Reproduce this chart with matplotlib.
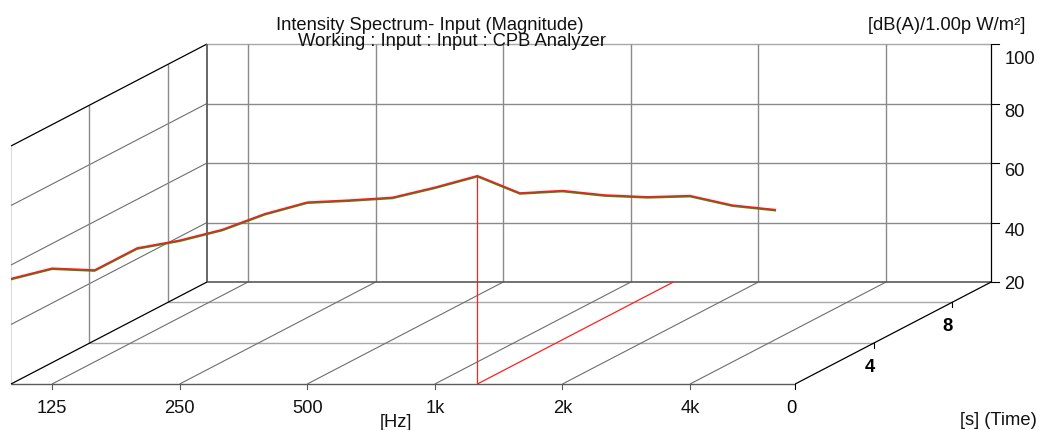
import numpy as np
import matplotlib
matplotlib.use("Agg")
import matplotlib.pyplot as plt
import matplotlib.transforms as mtransforms
from matplotlib.patches import Rectangle

# ---------------- data ----------------
band_freqs = [100, 125, 160, 200, 250, 315, 400, 500, 630, 800, 1000,
              1250, 1600, 2000, 2500, 3150, 4000, 5000, 6300]
level_db = [55.3, 58.9, 58.3, 65.7, 68.3, 71.9, 77.2, 81.1, 81.8, 82.7, 86.1,
            90.0, 84.2, 85.0, 83.5, 82.9, 83.3, 80.1, 78.6]
freq_ticks = [125, 250, 500, 1000, 2000, 4000]
freq_tick_labels = ["125", "250", "500", "1k", "2k", "4k"]
db_ticks = [20, 40, 60, 80, 100]
db_tick_labels = ["20", "40", "60", "80", "100"]
time_ticks = [0, 4, 8]
time_tick_labels = ["0", "4", "8"]
cursor_freq = 1250
f_min, f_max = 100, 7080
t_min, t_max = 0, 10
db_min, db_max = 20, 100

title1 = "Intensity Spectrum- Input (Magnitude)"
title2 = "Working : Input : Input : CPB Analyzer"
unit_text = "[dB(A)/1.00p W/m²]"
xlabel = "[Hz]"
tlabel = "[s] (Time)"

# ---------------- layout (oblique projection, pixel units) ----------------
W, H = 1046, 431
X0, Y0 = 11.0, 385.0          # front-left floor corner
OCT_PX = 127.6                # pixels per octave
DB_PX = 238.0 / 80.0          # pixels per dB
T_DX, T_DY = 19.6, -10.2      # pixels per second of depth


def octv(f):
    f = np.asarray(f, dtype=float)
    return np.log2(f / 1000.0)


def band_oct(f):
    return np.round(3 * np.log2(np.asarray(f, dtype=float) / 1000.0)) / 3.0


O_MIN = float(octv(f_min))
O_MAX = float(octv(f_max))


def proj(o, t, db):
    o = np.asarray(o, dtype=float)
    t = np.asarray(t, dtype=float)
    db = np.asarray(db, dtype=float)
    x = X0 + (o - O_MIN) * OCT_PX + t * T_DX
    y = Y0 - (db - db_min) * DB_PX + t * T_DY
    return x, y


FONT = "Liberation Sans"
FS = 13.2

fig = plt.figure(figsize=(W / 100, H / 100), dpi=100)
ax = fig.add_axes([0, 0, 1, 1])
ax.set_xlim(0, W)
ax.set_ylim(H, 0)
ax.axis("off")


def seg(o, t, db, **kw):
    x, y = proj(o, t, db)
    ax.plot(x, y, solid_capstyle="butt", **kw)


GRID = "#8a8a8a"
GRID_L = "#a8a8a8"
DIAG = "#6e6e6e"

# ---- left wall (o = O_MIN) ----
seg([O_MIN, O_MIN], [t_min, t_min], [db_min, db_max], color="#dcdcdc", lw=0.8)
for d in db_ticks[1:-1]:
    seg([O_MIN, O_MIN], [t_min, t_max], [d, d], color=DIAG, lw=0.8)
for tt in time_ticks[1:]:
    seg([O_MIN, O_MIN], [tt, tt], [db_min, db_max], color=GRID, lw=1.0)
seg([O_MIN, O_MIN], [t_min, t_max], [db_max, db_max], color="black", lw=0.9)

# ---- back wall (t = t_max) ----
for d in db_ticks[1:-1]:
    seg([O_MIN, O_MAX], [t_max, t_max], [d, d], color=GRID, lw=1.0)
seg([O_MIN, O_MAX], [t_max, t_max], [db_max, db_max], color=GRID_L, lw=1.0)
for f in freq_ticks:
    seg([octv(f), octv(f)], [t_max, t_max], [db_min, db_max], color=GRID, lw=1.0)
seg([O_MIN, O_MIN], [t_max, t_max], [db_min, db_max], color="#5a5a5a", lw=1.3)

# ---- floor (db = db_min) ----
for tt in time_ticks[1:]:
    seg([O_MIN, O_MAX], [tt, tt], [db_min, db_min], color=GRID_L, lw=1.0)
for f in freq_ticks:
    seg([octv(f), octv(f)], [t_min, t_max], [db_min, db_min], color=DIAG, lw=0.8)
seg([O_MIN, O_MAX], [t_max, t_max], [db_min, db_min], color="#5a5a5a", lw=1.2)
seg([O_MIN, O_MAX], [t_min, t_min], [db_min, db_min], color="#5a5a5a", lw=1.0)
seg([O_MIN, O_MIN], [t_min, t_max], [db_min, db_min], color="black", lw=0.9)

# ---- time axis (right floor edge) ----
seg([O_MAX, O_MAX], [t_min, t_max], [db_min, db_min], color="black", lw=0.9)
for tt, lab in zip(time_ticks, time_tick_labels):
    x, y = proj(O_MAX, tt, db_min)
    ax.plot([x, x], [y, y + 5], color="black", lw=0.8)
    ax.text(x - 4, y + 28, lab, ha="center", va="baseline", family=FONT,
            fontsize=FS, color="black",
            fontweight=("normal" if tt == 0 else "bold"))

# ---- frequency ticks on front floor ----
for f, lab in zip(freq_ticks, freq_tick_labels):
    x, y = proj(octv(f), t_min, db_min)
    ax.plot([x, x], [y, y + 5], color="#5a5a5a", lw=0.8)
    ax.text(x, y + 28, lab, ha="center", va="baseline", family=FONT,
            fontsize=FS, color="#111111")

# ---- vertical (dB) axis at back right ----
seg([O_MAX, O_MAX], [t_max, t_max], [db_min, db_max], color="black", lw=0.9)
label_dy = [6.5, 12.5, 12.5, 12.5, 19]
for d, lab, dy in zip(db_ticks, db_tick_labels, label_dy):
    x, y = proj(O_MAX, t_max, d)
    ax.plot([x, x + 8], [y, y], color="black", lw=0.8)
    ax.text(x + 13, y + dy, lab, ha="left", va="baseline", family=FONT,
            fontsize=FS, color="#111111")

# ---- cursor ----
ci = band_freqs.index(cursor_freq)
co = band_oct(cursor_freq)
seg([co, co], [t_min, t_min], [db_min, level_db[ci]], color="#ff2020", lw=0.9)
seg([co, co], [t_min, t_max], [db_min, db_min], color="#ff2020", lw=0.9)

# ---- spectrum trace at t = 0 ----
clip_x0, _ = proj(O_MIN, t_min, db_min)
clip_x1, _ = proj(O_MAX, t_min, db_min)
clip_rect = Rectangle((clip_x0, 0), clip_x1 - clip_x0, H, transform=ax.transData)
sx, sy = proj(band_oct(band_freqs), np.zeros(len(band_freqs)), level_db)
green_tr = mtransforms.offset_copy(ax.transData, fig=fig, x=0, y=-0.8, units="dots")
lg, = ax.plot(sx, sy, color="#1f9a1f", lw=1.4, transform=green_tr)
lr, = ax.plot(sx, sy, color="#ff1a1a", lw=1.2)
lg.set_clip_path(clip_rect)
lr.set_clip_path(clip_rect)

# ---- texts ----
ax.text(430, 30, title1, ha="center", va="baseline", family=FONT, fontsize=FS, color="#111111")
ax.text(452, 46.5, title2, ha="center", va="baseline", family=FONT, fontsize=FS, color="#111111")
ax.text(1025, 30, unit_text, ha="right", va="baseline", family=FONT, fontsize=FS, color="#111111")
ax.text(396, 427, xlabel, ha="center", va="baseline", family=FONT, fontsize=FS, color="#111111")
ax.text(1037, 425.5, tlabel, ha="right", va="baseline", family=FONT, fontsize=FS, color="#111111")

fig.savefig("out.png", dpi=100, facecolor="white")
